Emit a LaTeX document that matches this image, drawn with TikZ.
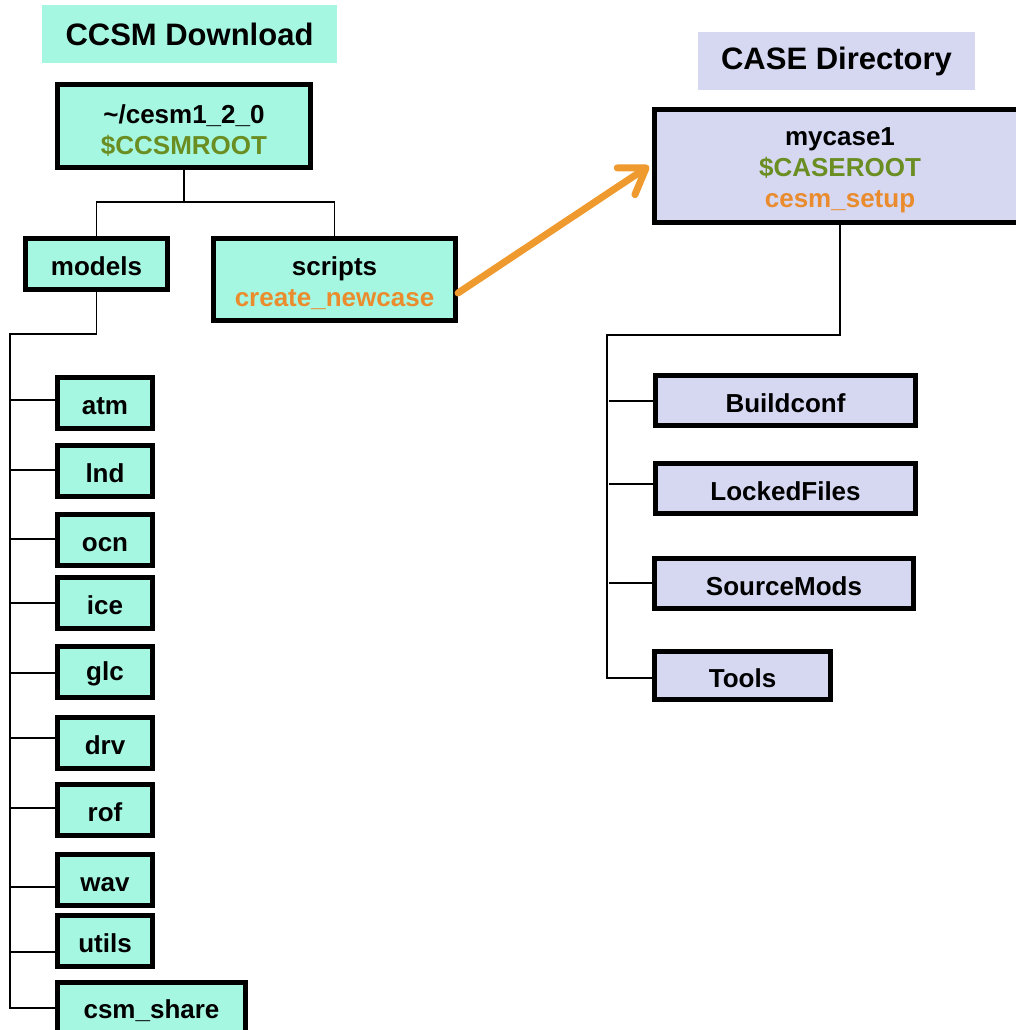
\documentclass[tikz,border=0pt]{standalone}
\usepackage{fontspec}
\setmainfont{Liberation Sans}
\usetikzlibrary{arrows.meta}
\definecolor{mint}{RGB}{166,247,225}
\definecolor{lav}{RGB}{214,216,242}
\definecolor{olivegreen}{RGB}{107,142,35}
\definecolor{orangetxt}{RGB}{234,140,45}
\definecolor{orangearrow}{RGB}{238,154,46}
\newcommand{\topstrut}{\rule{0pt}{27pt}}
\begin{document}
\begin{tikzpicture}[x=1pt,y=-1pt,
  box/.style={draw=black, line width=5pt, align=center, inner sep=0pt,
    font=\bfseries\fontsize{26}{31}\selectfont,
    execute at begin node={\rule{0pt}{24pt}}},
  dl/.style={box, fill=mint},
  cl/.style={box, fill=lav},
  small/.style={minimum width=95pt, minimum height=51pt},
  titlebox/.style={inner sep=0pt, font=\bfseries\fontsize{31}{36}\selectfont},
  conn/.style={draw=black, line width=1.8pt},
  bigarrow/.style={draw=orangearrow, line width=7pt, line cap=round,
    -{Straight Barb[length=24pt,width=32pt,round]}},
]
\useasboundingbox (0,0) rectangle (1015,1030);

% titles
\node[titlebox, fill=mint, minimum width=295pt, minimum height=58pt] (t1) at (189.5,34) {CCSM Download};
\node[titlebox, fill=lav, minimum width=277pt, minimum height=58pt] (t2) at (836.5,61) {CASE Directory};

% left tree
\node[dl, minimum width=253pt, minimum height=83pt] (root) at (184,126) {\topstrut\textasciitilde/cesm1\_2\_0\\\textcolor{olivegreen}{\$CCSMROOT}};
\node[dl, minimum width=142pt, minimum height=51pt] (models) at (96.5,264) {models};
\node[dl, minimum width=242pt, minimum height=82pt] (scripts) at (334.5,279.5) {\topstrut scripts\\\textcolor{orangetxt}{create\_newcase}};

\node[dl, small] (atm) at (105,403) {atm};
\node[dl, small] (lnd) at (105,471) {lnd};
\node[dl, small] (ocn) at (105,539.5) {ocn};
\node[dl, small] (ice) at (105,603) {ice};
\node[dl, small] (glc) at (105,671.5) {glc};
\node[dl, small] (drv) at (105,742.5) {drv};
\node[dl, small] (rof) at (105,809.5) {rof};
\node[dl, small] (wav) at (105,879.5) {wav};
\node[dl, small] (utils) at (105,940.5) {utils};
\node[dl, minimum width=188pt, minimum height=51pt] (csm) at (151.5,1008) {csm\_share};

% right tree
\node[cl, minimum width=371pt, minimum height=113pt] (case) at (840,166) {\topstrut mycase1\\\textcolor{olivegreen}{\$CASEROOT}\\\textcolor{orangetxt}{cesm\_setup}};
\node[cl, minimum width=260pt, minimum height=50pt] (build) at (785.5,400.5) {Buildconf};
\node[cl, minimum width=260pt, minimum height=50pt] (locked) at (785.5,488.5) {LockedFiles};
\node[cl, minimum width=259pt, minimum height=50pt] (srcmods) at (784,583.5) {SourceMods};
\node[cl, minimum width=176pt, minimum height=48pt] (tools) at (742.5,675.5) {Tools};

% left connectors
\coordinate (rj) at (184,202);
\draw[conn] (root.south) -- (rj);
\draw[conn] (rj) -| (models.north);
\draw[conn] (rj) -| (scripts.north);
\coordinate (stop) at (10,334);
\coordinate (sbot) at (10,1008);
\draw[conn] (models.south) |- (stop) -- (sbot) -- (csm.west);
\coordinate (c1) at (10,400);
\coordinate (c2) at (10,470);
\coordinate (c3) at (10,539);
\coordinate (c4) at (10,603);
\coordinate (c5) at (10,673);
\coordinate (c6) at (10,738);
\coordinate (c7) at (10,808);
\coordinate (c8) at (10,887);
\coordinate (c9) at (10,952);
\draw[conn] (c1) -- (c1 -| atm.west);
\draw[conn] (c2) -- (c2 -| lnd.west);
\draw[conn] (c3) -- (c3 -| ocn.west);
\draw[conn] (c4) -- (c4 -| ice.west);
\draw[conn] (c5) -- (c5 -| glc.west);
\draw[conn] (c6) -- (c6 -| drv.west);
\draw[conn] (c7) -- (c7 -| rof.west);
\draw[conn] (c8) -- (c8 -| wav.west);
\draw[conn] (c9) -- (c9 -| utils.west);

% right connectors
\coordinate (rtop) at (607,335);
\coordinate (rbot) at (607,678);
\draw[conn] (case.south) |- (rtop) -- (rbot) -- (rbot -| tools.west);
\coordinate (r1) at (609,401);
\coordinate (r2) at (609,484);
\coordinate (r3) at (609,583);
\draw[conn] (r1) -- (r1 -| build.west);
\draw[conn] (r2) -- (r2 -| locked.west);
\draw[conn] (r3) -- (r3 -| srcmods.west);

% arrow
\draw[bigarrow] ([yshift=-13.5pt]scripts.east) -- ([xshift=-3pt]case.west);
\end{tikzpicture}
\end{document}
